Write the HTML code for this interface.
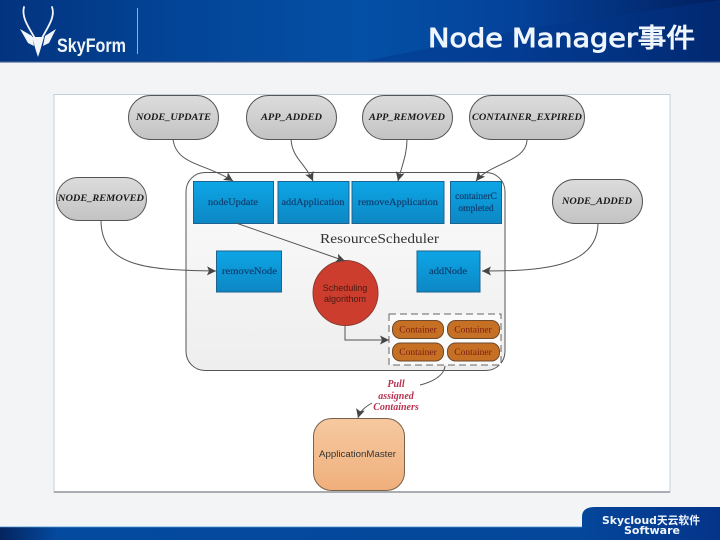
<!DOCTYPE html>
<html><head><meta charset="utf-8"><style>
html,body{margin:0;padding:0;width:720px;height:540px;overflow:hidden;background:#f3f4f6}
svg{display:block}
</style></head><body>
<svg width="720" height="540" viewBox="0 0 720 540" xmlns="http://www.w3.org/2000/svg">
<defs>
<linearGradient id="hd" x1="0" y1="0" x2="1" y2="0">
<stop offset="0" stop-color="#03337f"/><stop offset=".25" stop-color="#034597"/><stop offset=".5" stop-color="#0450a6"/><stop offset=".72" stop-color="#04429a"/><stop offset="1" stop-color="#021f5e"/>
</linearGradient>
<linearGradient id="ft" x1="0" y1="0" x2="1" y2="0">
<stop offset="0" stop-color="#04245f"/><stop offset=".08" stop-color="#044a9f"/><stop offset=".8" stop-color="#04479b"/><stop offset="1" stop-color="#04348a"/>
</linearGradient>
<linearGradient id="gr" x1="0" y1="0" x2="0" y2="1"><stop offset="0" stop-color="#dcdcdc"/><stop offset="1" stop-color="#c3c3c3"/></linearGradient>
<linearGradient id="bl" x1="0" y1="0" x2="0" y2="1"><stop offset="0" stop-color="#0ca6e6"/><stop offset="1" stop-color="#0987c4"/></linearGradient>
<linearGradient id="rs" x1="0" y1="0" x2="0" y2="1"><stop offset="0" stop-color="#fbfbfb"/><stop offset="1" stop-color="#eeeeee"/></linearGradient>
<linearGradient id="am" x1="0" y1="0" x2="0" y2="1"><stop offset="0" stop-color="#f6c9a0"/><stop offset="1" stop-color="#efaf7c"/></linearGradient>
<marker id="a" markerWidth="10" markerHeight="10" refX="9" refY="5" orient="auto" markerUnits="userSpaceOnUse"><path d="M0 0.500L9 5L0 9.500L2 5Z" fill="#444"/></marker>
<filter id="soft" x="-5%" y="-5%" width="110%" height="110%"><feGaussianBlur stdDeviation="0.35"/></filter>
</defs>

<rect width="720" height="62" fill="url(#hd)"/>
<path d="M360 62L520 30L720 0V62Z" fill="#03368a" opacity=".45"/>
<rect y="61" width="720" height="1.5" fill="#2a4f8a"/>
<g fill="none" stroke="#f2f6fb" stroke-linecap="round">
<path d="M24 7C21 18 30 29 37 42" stroke-width="1.8"/>
<path d="M52 7C56 18 46 29 40 42" stroke-width="1.8"/>
</g>
<path d="M20 29L32 36L34 46L28 43Z M56 29L45 36L43 46L49 43Z M32 37H44L40 51L38 57L36 51Z" fill="#f2f6fb"/>
<text x="57" y="52" font-family="'Liberation Sans',sans-serif" font-size="19" font-weight="bold" fill="#f0f5fb" textLength="69" lengthAdjust="spacingAndGlyphs">SkyForm</text>
<rect x="137" y="8" width="1" height="46" fill="#8fb0d6"/>
<text x="428" y="47" font-family="'DejaVu Sans','Noto Sans CJK SC',sans-serif" font-size="26" fill="#eef5fc" stroke="#eef5fc" stroke-width=".9" textLength="267" lengthAdjust="spacingAndGlyphs">Node Manager事件</text>

<path d="M0 526H582V517Q582 507 595 507H720V540H0Z" fill="url(#ft)"/>
<rect y="526" width="582" height="1.2" fill="#a9d0ec"/>
<text x="651" y="524" text-anchor="middle" font-family="'DejaVu Sans','Noto Sans CJK SC',sans-serif" font-size="11" font-weight="bold" fill="#f0f5fb" textLength="98" lengthAdjust="spacingAndGlyphs">Skycloud天云软件</text>
<text x="652" y="534" text-anchor="middle" font-family="'DejaVu Sans',sans-serif" font-size="11" font-weight="bold" fill="#f0f5fb" textLength="56" lengthAdjust="spacingAndGlyphs">Software</text>

<rect x="54" y="94.500" width="616" height="398" fill="#fff" stroke="#c3cfd8"/>
<rect x="54" y="491" width="616" height="2" fill="#a9adb2"/>

<g filter="url(#soft)">
<rect x="186" y="172.500" width="319" height="198" rx="19" fill="url(#rs)" stroke="#555" stroke-width="1"/>

<g fill="url(#gr)" stroke="#555" stroke-width="1">
<rect x="128.500" y="95.500" width="90" height="44" rx="22"/>
<rect x="246.500" y="95.500" width="90" height="44" rx="22"/>
<rect x="362.500" y="95.500" width="90" height="44" rx="22"/>
<rect x="469.500" y="95.500" width="115" height="44" rx="22"/>
<rect x="56.500" y="177.500" width="90" height="43" rx="21.500"/>
<rect x="552.500" y="179.500" width="90" height="44" rx="22"/>
</g>
<g font-family="'Liberation Serif',serif" font-size="9.500" font-style="italic" font-weight="bold" fill="#1a1a1a" text-anchor="middle">
<text x="173.500" y="120" textLength="75" lengthAdjust="spacingAndGlyphs">NODE_UPDATE</text>
<text x="291.500" y="120" textLength="61" lengthAdjust="spacingAndGlyphs">APP_ADDED</text>
<text x="407" y="120" textLength="76" lengthAdjust="spacingAndGlyphs">APP_REMOVED</text>
<text x="527" y="120" textLength="110" lengthAdjust="spacingAndGlyphs">CONTAINER_EXPIRED</text>
<text x="101" y="201" textLength="86" lengthAdjust="spacingAndGlyphs">NODE_REMOVED</text>
<text x="597" y="204" textLength="70" lengthAdjust="spacingAndGlyphs">NODE_ADDED</text>
</g>

<g fill="url(#bl)" stroke="#1b6490" stroke-width="1">
<rect x="193.500" y="181.500" width="80" height="42"/>
<rect x="278" y="181.500" width="71" height="42"/>
<rect x="352" y="181.500" width="92" height="42"/>
<rect x="450.500" y="181.500" width="51" height="42"/>
<rect x="216.500" y="251" width="65" height="41"/>
<rect x="417" y="251" width="63" height="41"/>
</g>
<g font-family="'Liberation Serif',serif" font-size="9.500" fill="#123f70" stroke="#123f70" stroke-width=".2" text-anchor="middle">
<text x="233" y="205" textLength="50" lengthAdjust="spacingAndGlyphs">nodeUpdate</text>
<text x="313" y="205" textLength="63" lengthAdjust="spacingAndGlyphs">addApplication</text>
<text x="398" y="205" textLength="80" lengthAdjust="spacingAndGlyphs">removeApplication</text>
<text x="476" y="199">containerC</text>
<text x="476" y="211">ompleted</text>
<text x="249.500" y="274" textLength="55" lengthAdjust="spacingAndGlyphs">removeNode</text>
<text x="448" y="274" textLength="38" lengthAdjust="spacingAndGlyphs">addNode</text>
</g>
<text x="379.500" y="243" text-anchor="middle" font-family="'Liberation Serif',serif" font-size="14" fill="#333" textLength="119" lengthAdjust="spacingAndGlyphs">ResourceScheduler</text>

<circle cx="345.500" cy="293" r="32.500" fill="#cc3d2f" stroke="#8f3a30"/>
<g font-family="'Liberation Sans',sans-serif" font-size="9" fill="#4a1a12" text-anchor="middle">
<text x="345" y="291">Scheduling</text>
<text x="345" y="302">algorithom</text>
</g>

<rect x="389" y="314" width="112" height="51" fill="#fafafa" stroke="#666" stroke-dasharray="7 4"/>
<g fill="#c66f25" stroke="#6e4a2c" stroke-width="1">
<rect x="392.500" y="320.500" width="51" height="18" rx="8"/>
<rect x="447.500" y="320.500" width="52" height="18" rx="8"/>
<rect x="392.500" y="343" width="51" height="18" rx="8"/>
<rect x="447.500" y="343" width="52" height="18" rx="8"/>
</g>
<g font-family="'Liberation Serif',serif" font-size="9.500" fill="#7a1f10" text-anchor="middle">
<text x="418" y="332.500">Container</text>
<text x="473" y="332.500">Container</text>
<text x="418" y="355">Container</text>
<text x="473" y="355">Container</text>
</g>

<rect x="313.500" y="418.500" width="91" height="72" rx="18" fill="url(#am)" stroke="#7a6049"/>
<text x="357.500" y="457" text-anchor="middle" font-family="'Liberation Sans',sans-serif" font-size="9" fill="#333" textLength="77" lengthAdjust="spacingAndGlyphs">ApplicationMaster</text>

<g font-family="'Liberation Serif',serif" font-size="10" font-style="italic" font-weight="bold" fill="#b8324f" text-anchor="middle">
<text x="396" y="387">Pull</text>
<text x="396" y="399">assigned</text>
<text x="396" y="410">Containers</text>
</g>

<g fill="none" stroke="#555" stroke-width="1" marker-end="url(#a)">
<path d="M173 139C176 165 205 163 233 181"/>
<path d="M291 139C292 158 305 163 313 181"/>
<path d="M407 139C407 155 402 165 398 181"/>
<path d="M527 140C526 162 490 163 476 181"/>
<path d="M101 220C101 268 150 270 216 271"/>
<path d="M598 223C598 268 540 271 482 271"/>
<path d="M236 223L345 261"/>
<path d="M345 326V340H389"/>
<path d="M372 403C365 407 360 411 358 418"/>
</g>
<path d="M445 366C444 376 432 382 420 385" fill="none" stroke="#555"/>
</g>
</svg>
</body></html>
